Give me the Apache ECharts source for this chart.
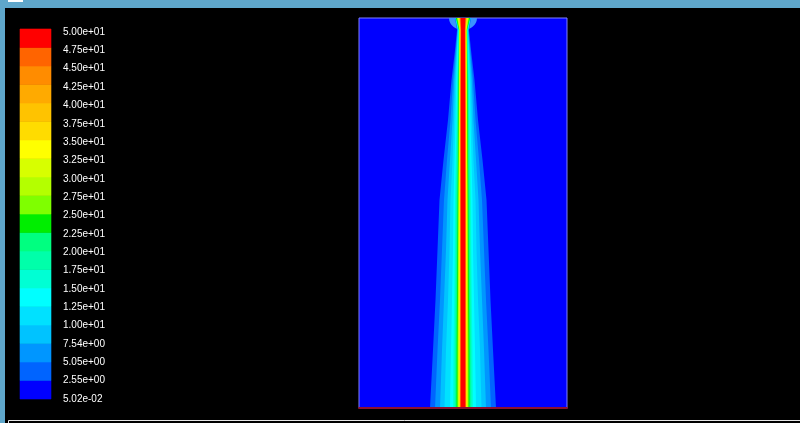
<!DOCTYPE html>
<html><head><meta charset="utf-8">
<script src="https://cdn.jsdelivr.net/npm/echarts@6/dist/echarts.min.js"></script>
<style>html,body{margin:0;padding:0;background:#000;overflow:hidden}#c{width:800px;height:423px}</style>
</head><body><div id="c"></div>
<script>
// Legend tick labels, from bottom to top
const tickLabels = ['5.02e-02','2.55e+00','5.05e+00','7.54e+00','1.00e+01','1.25e+01','1.50e+01','1.75e+01','2.00e+01','2.25e+01','2.50e+01','2.75e+01','3.00e+01','3.25e+01','3.50e+01','3.75e+01','4.00e+01','4.25e+01','4.50e+01','4.75e+01','5.00e+01'];
// Band colours, from top (highest) to bottom (lowest)
const bandColors = ['#ff0000','#ff6400','#ff8c00','#ffaa00','#ffc300','#ffdc00','#ffff00','#d7ff00','#b4ff00','#7fff00','#00ee00','#00ff80','#00ffaa','#00ffd4','#00ffff','#00e1ff','#00c3ff','#0096ff','#0064ff','#0000ff'];
// Domain extents (x across, y up from outlet)
const xExtent = [-104, 104];
const yExtent = [0, 390];
// Heights of the sampled rows (top to bottom)
const rowY = [390, 378, 358, 328, 288, 248, 208, 158, 108, 58, 0];
// Half-width of the region above each contour level (2.55, 5.05, ... 47.5) at each row
const halfWidths = [
  [8, 7.8, 7.6, 7.4, 7.2, 7, 7, 7, 7, 6, 5.5, 5, 4.5, 4, 3.6, 3.3, 3, 2.7, 2.3],
  [6, 5.6, 5.3, 5, 4.7, 4.5, 4.3, 4.1, 3.9, 3.7, 3.5, 3.3, 3.1, 2.9, 2.7, 2.5, 2.3, 2.1, 1.9],
  [8, 7.3, 6.7, 6.1, 5.6, 5.1, 4.7, 4.3, 4, 3.8, 3.6, 3.4, 3.2, 3, 2.8, 2.6, 2.4, 2.2, 2],
  [11.5, 10, 8.8, 7.7, 6.7, 5.9, 5.3, 4.8, 4.4, 4.1, 3.8, 3.5, 3.3, 3.1, 2.9, 2.7, 2.5, 2.3, 2.1],
  [15, 12.5, 10.5, 9, 7.5, 6.5, 5.8, 5.2, 4.7, 4.3, 4, 3.7, 3.4, 3.2, 3, 2.8, 2.6, 2.4, 2.2],
  [19.5, 16, 13, 10.5, 8.5, 7.2, 6.3, 5.6, 5, 4.5, 4.1, 3.8, 3.5, 3.2, 3, 2.8, 2.6, 2.4, 2.2],
  [23.5, 19, 15.5, 12.5, 9.5, 8, 7, 6, 5.3, 4.8, 4.3, 4, 3.6, 3.3, 3.1, 2.9, 2.7, 2.5, 2.2],
  [25.5, 21, 17, 13.5, 10, 8.3, 7.3, 6.4, 5.6, 5, 4.5, 4.1, 3.7, 3.3, 3.1, 2.9, 2.7, 2.5, 2.2],
  [27.5, 23, 19, 15, 11, 8.8, 7.7, 6.8, 6, 5.2, 4.7, 4.2, 3.8, 3.4, 3.1, 2.9, 2.7, 2.5, 2.2],
  [30, 25.5, 21, 17, 12, 9.5, 8.2, 7.2, 6.3, 5.5, 4.9, 4.4, 3.9, 3.5, 3.2, 2.9, 2.7, 2.5, 2.2],
  [33, 28, 23, 18.5, 13, 10, 8.5, 7.5, 6.5, 5.6, 5, 4.5, 4, 3.6, 3.3, 3, 2.8, 2.6, 2.3]
];
// Inlet bubble at the top of the domain
const blobCenter = [0, 390];
const blobRadii = [14, 12];

const chart = echarts.init(document.getElementById('c'), null, {renderer: 'canvas'});
const bandIdx = bandColors.map((c, i) => i); // 0 = bottom band
const levelIdx = halfWidths[0].map((v, i) => i);

const option = {
  backgroundColor: '#000000',
  animation: false,
  graphic: [
    {type: 'rect', shape: {x: 0, y: 0, width: 800, height: 8}, style: {fill: '#5fa7cb'}, z: 100},
    {type: 'rect', shape: {x: 0, y: 0, width: 5, height: 423}, style: {fill: '#5fa7cb'}, z: 100},
    {type: 'rect', shape: {x: 8, y: 0, width: 15, height: 2}, style: {fill: '#ffffff'}, z: 101},
    {type: 'polyline', shape: {points: [[8.5, 423], [8.5, 420.5], [800, 420.5]]}, style: {stroke: '#e6e6e6', lineWidth: 1, fill: null}, z: 100}
  ],
  grid: [
    {left: 20, top: 29, width: 31, height: 370, show: false},
    {left: 359, top: 18, width: 208, height: 390, show: true, backgroundColor: '#0000ff', borderColor: '#8080ff', borderWidth: 1}
  ],
  xAxis: [
    {gridIndex: 0, type: 'value', min: 0, max: 1, show: false},
    {gridIndex: 1, type: 'value', min: xExtent[0], max: xExtent[1], z: 10,
     axisLine: {show: true, lineStyle: {color: '#8c1030', width: 2}},
     axisTick: {show: false}, axisLabel: {show: false}, splitLine: {show: false}}
  ],
  yAxis: [
    {gridIndex: 0, type: 'value', min: 0, max: 20, show: false},
    {gridIndex: 0, type: 'value', position: 'right', min: 0, max: 20 * 370 / 367, interval: 1,
     axisLine: {show: false}, axisTick: {show: false}, splitLine: {show: false},
     axisLabel: {show: true, margin: 12, color: '#ffffff', fontFamily: 'Liberation Sans, Arial, sans-serif', fontSize: 10,
       showMaxLabel: false,
       formatter: v => { const r = Math.round(v); return Math.abs(v - r) < 1e-6 && tickLabels[r] ? tickLabels[r] : ''; }}},
    {gridIndex: 1, type: 'value', min: yExtent[0], max: yExtent[1], show: false}
  ],
  series: [
    {
      type: 'custom', xAxisIndex: 0, yAxisIndex: 0, data: bandIdx,
      renderItem: (params, api) => {
        const i = api.value(0);
        const p0 = api.coord([0, i + 1]);
        const p1 = api.coord([1, i]);
        const col = bandColors[bandColors.length - 1 - i];
        return {type: 'rect', shape: {x: p0[0], y: p0[1], width: p1[0] - p0[0], height: p1[1] - p0[1]},
                style: {fill: col, stroke: col, lineWidth: 0.6}};
      }
    },
    {
      type: 'custom', xAxisIndex: 1, yAxisIndex: 2, clip: true, data: [blobCenter],
      renderItem: (params, api) => {
        const c = api.coord([api.value(0), api.value(1)]);
        const s = api.size([blobRadii[0], blobRadii[1]]);
        return {type: 'ellipse', shape: {cx: c[0], cy: c[1], rx: s[0], ry: s[1]}, style: {fill: '#3a94ff'}};
      }
    },
    {
      type: 'custom', xAxisIndex: 1, yAxisIndex: 2, clip: true, data: levelIdx, z: 3,
      renderItem: (params, api) => {
        const k = api.value(0);
        const left = rowY.map((y, r) => api.coord([-halfWidths[r][k], y]));
        const right = rowY.map((y, r) => api.coord([halfWidths[r][k], y])).reverse();
        return {type: 'polygon', shape: {points: left.concat(right)},
                style: {fill: bandColors[bandColors.length - 2 - k]}};
      }
    }
  ]
};
chart.setOption(option);
</script>
</body></html>
